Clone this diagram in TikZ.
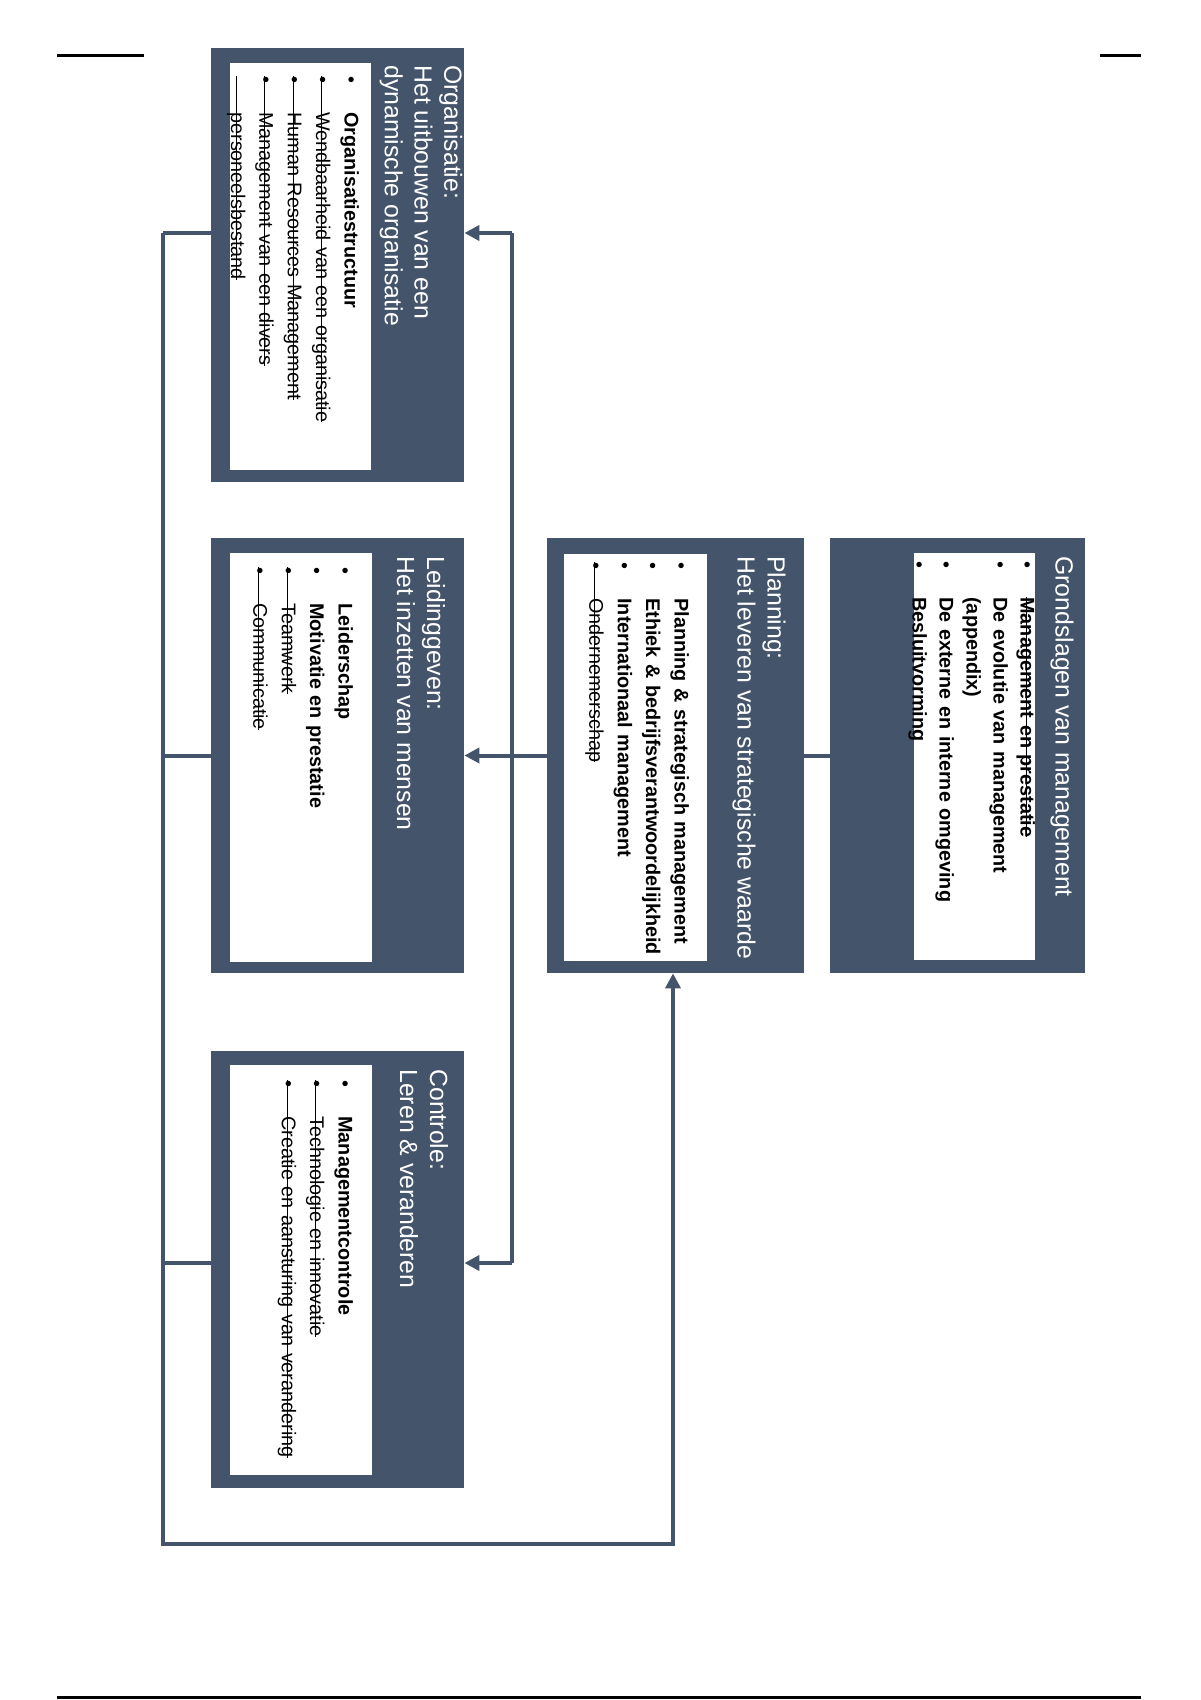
\documentclass[tikz,border=0pt]{standalone}
\usepackage{fontspec}
\setmainfont{Liberation Sans}
\usetikzlibrary{arrows.meta,fit}
\definecolor{slate}{HTML}{44546A}
\newlength\stkw
\newcommand\stkline[1]{\leavevmode\settowidth\stkw{#1}\addtolength\stkw{18pt}\rlap{\rule[0.25em]{\stkw}{0.5pt}}}
\newcommand\stktext[1]{\leavevmode\settowidth\stkw{#1}\rlap{\rule[0.25em]{\stkw}{0.5pt}}#1}
\newcommand\bul{\leavevmode\rlap{\textbullet}}
\newcommand\itm[1]{\bul\hspace*{18pt}#1}
\newcommand\sitm[1]{\bul\stkline{#1}\hspace*{18pt}#1}
\newcommand\scnt[1]{\stkline{#1}\hspace*{18pt}#1}
\begin{document}
\begin{tikzpicture}[x=0.5pt,y=-0.5pt,
  box/.style={fill=slate, inner sep=0pt, draw=none},
  inbox/.style={fill=white, inner sep=0pt, draw=none},
  ttl/.style={rotate=-90, anchor=west, align=left, text=white, inner sep=0pt,
    font=\fontsize{12.4}{14.9}\selectfont},
  lst/.style={rotate=-90, anchor=north west, text width=220pt, align=left, inner sep=0pt,
    font=\fontsize{9.9}{14.2}\selectfont},
  conn/.style={draw=slate, line width=2pt},
  arr/.style={-{Triangle[length=7.5pt,width=7.5pt]}},
  rule/.style={draw=black, line width=1.5pt}]
\useasboundingbox (0,0) rectangle (1200,1700);
\fill[white] (0,0) rectangle (1200,1700);

% page rules
\draw[rule] (57,56) -- (144,56);
\draw[rule] (1100,56) -- (1141,56);
\draw[rule] (57,1697) -- (1141,1697);

% boxes
\node[box, fit={(211,48)(464,482)}] (org) {};
\node[inbox, fit={(230,63)(371,470)}] (orgI) {};
\node[box, fit={(211,538)(464,973)}] (lead) {};
\node[inbox, fit={(230,553)(372,962)}] (leadI) {};
\node[box, fit={(211,1051)(464,1488)}] (ctrl) {};
\node[inbox, fit={(230,1065)(372,1475)}] (ctrlI) {};
\node[box, fit={(547,538)(804,973)}] (plan) {};
\node[inbox, fit={(564,554)(707,961)}] (planI) {};
\node[box, fit={(830,538)(1085,973)}] (grond) {};
\node[inbox, fit={(914,553)(1035,960)}] (grondI) {};

% titles
\node[ttl] (orgT) at (421,65) {Organisatie:\\Het uitbouwen van een\\dynamische organisatie};
\node[ttl] (leadT) at (421,556) {Leidinggeven:\\Het inzetten van mensen};
\node[ttl] (ctrlT) at (424,1069) {Controle:\\Leren \& veranderen};
\node[ttl] (planT) at (759,556) {Planning:\\Het leveren van strategische waarde};
\node[ttl] (grondT) at (1062,556) {Grondslagen van management};

% lists
\node[lst] (orgL) at (365,76) {\rule{0pt}{10pt}\itm{\textbf{Organisatiestructuur}}\\
  \sitm{Wendbaarheid van een organisatie}\\
  \sitm{Human Resources Management}\\
  \sitm{Management van een divers}\\
  \scnt{personeelsbestand}};
\node[lst] (leadL) at (359,567) {\rule{0pt}{10pt}\itm{\textbf{Leiderschap}}\\
  \itm{\textbf{Motivatie en prestatie}}\\
  \sitm{Teamwerk}\\
  \sitm{Communicatie}};
\node[lst] (ctrlL) at (359,1080) {\rule{0pt}{10pt}\itm{\textbf{Managementcontrole}}\\
  \sitm{Technologie en innovatie}\\
  \sitm{Creatie en aansturing van verandering}};
\node[lst] (planL) at (695,562) {\rule{0pt}{10pt}\itm{\textbf{Planning \& strategisch management}}\\
  \itm{\textbf{Ethiek \& bedrijfsverantwoordelijkheid}}\\
  \itm{\textbf{Internationaal management}}\\
  \sitm{Ondernemerschap}};
\node[lst, font=\fontsize{9.9}{13.5}\selectfont] (grondL) at (1041,561) {\rule{0pt}{10pt}\bul\hspace*{18pt}\textbf{\stktext{Management en prestatie}}\\
  \itm{\textbf{De evolutie van management}}\\
  \leavevmode\hspace*{18pt}\textbf{(appendix)}\\
  \itm{\textbf{De externe en interne omgeving}}\\
  \itm{\textbf{Besluitvorming}}};

% connectors
\coordinate (jt) at (512,233);
\coordinate (jb) at (512,1263);
\coordinate (lt) at (163,233);
\coordinate (lb) at (163,1544);
\coordinate (bb) at (673,1544);

\draw[conn] (grond.west) -- (plan.east);
\draw[conn, arr] (plan.west) -- (lead.east);
\draw[conn] (jt) -- (jb);
\draw[conn, arr] (jt) -- (jt -| org.east);
\draw[conn, arr] (jb) -- (jb -| ctrl.east);
\draw[conn] (org.west |- lt) -- (lt);
\draw[conn] (lead.west) -- (lead.west -| lt);
\draw[conn] (ctrl.west |- jb) -- (jb -| lt);
\draw[conn, arr] (lt) -- (lb) -- (bb) -- (bb |- plan.south);
\end{tikzpicture}
\end{document}
